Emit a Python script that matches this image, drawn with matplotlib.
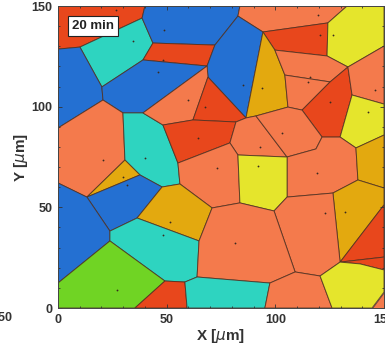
import matplotlib
matplotlib.use('Agg')
import matplotlib.pyplot as plt
from matplotlib.patches import Polygon
from matplotlib.ticker import MultipleLocator

plt.rcParams['font.family'] = ['Liberation Sans', 'DejaVu Sans']

# grain boundary junctions (um)
verts = {
    'A1': (0, 150), 'A2': (40.0, 150), 'A3': (83.7, 150), 'A4': (133.0, 150), 'A5': (150, 150),
    'A6': (0, 0), 'A7': (150, 0),
    'V1': (38.7, 144.0), 'V2': (10.1, 129.6), 'V3': (0, 128.6), 'V4': (43.7, 131.6),
    'V5': (39.1, 123.2), 'V6': (20.2, 109.8), 'V7': (72.2, 130.6), 'V8': (82.8, 145.0),
    'V9': (94.3, 137.1), 'V10': (124.2, 141.6), 'V11': (123.8, 125.2), 'V12': (99.8, 128.1),
    'V13': (133.4, 119.7), 'V14': (150, 130.1), 'V15': (68.6, 120.2), 'V16': (69.0, 114.7),
    'V17': (86.5, 94.4), 'V18': (62.1, 93.4), 'V19': (39.1, 96.9), 'V20': (20.7, 103.3),
    'V21': (0, 89.4), 'V22': (48.3, 90.9), 'V23': (105.8, 99.8), 'V24': (104.4, 115.7),
    'V25': (125.2, 112.3), 'V26': (112.3, 98.3), 'V27': (135.3, 105.8), 'V28': (129.8, 84.9),
    'V29': (121.5, 84.9), 'V30': (150, 101.3), 'V31': (150, 85.9), 'V32': (137.1, 79.5),
    'V33': (29.9, 96.9), 'V36': (81.9, 92.4), 'V37': (79.1, 82.0), 'V38': (55.2, 72.0),
    'V39': (118.7, 79.0), 'V40': (105.4, 75.0), 'V41': (82.8, 76.0), 'V42': (83.7, 52.2),
    'V43': (70.9, 49.7), 'V44': (56.1, 61.6), 'V45': (47.9, 60.1), 'V46': (37.7, 66.1),
    'V47': (30.8, 73.5), 'V48': (13.3, 55.1), 'V49': (0, 62.1), 'V50': (36.4, 44.7),
    'V51': (23.9, 38.2), 'V52': (23.9, 33.3), 'V53': (0, 12.4), 'V54': (64.9, 33.3),
    'V57': (64.0, 15.4), 'V58': (58.4, 12.9), 'V59': (49.2, 13.4), 'V61': (35.4, 0),
    'V62': (59.4, 0), 'V63': (97.5, 12.4), 'V64': (95.2, 0), 'V65': (99.4, 48.2),
    'V66': (109.1, 17.9), 'V67': (105.4, 55.1), 'V69': (126.5, 57.1), 'V70': (150, 59.6),
    'V71': (138.0, 63.6), 'V72': (129.8, 22.8), 'V73': (120.6, 15.9), 'V74': (150, 51.2),
    'V75': (150, 25.3), 'V76': (150, 18.9), 'V77': (139.0, 21.9), 'V78': (150, 7.9),
    'V83': (144.5, 0), 'V84': (126.1, 0), 'V85': (91.1, 95.4),
}

grains = [
    ['A1', 'A2', 'V1', 'V2', 'V3'],
    ['V1', 'V4', 'V5', 'V6', 'V2'],
    ['A2', 'A3', 'V8', 'V7', 'V4', 'V1'],
    ['A3', 'A4', 'V10', 'V9', 'V8'],
    ['V9', 'V10', 'V11', 'V12'],
    ['A4', 'A5', 'V14', 'V13', 'V11', 'V10'],
    ['V3', 'V2', 'V6', 'V20', 'V21'],
    ['V4', 'V7', 'V15', 'V5'],
    ['V6', 'V5', 'V15', 'V19', 'V33', 'V20'],
    ['V8', 'V9', 'V17', 'V16', 'V15', 'V7'],
    ['V9', 'V12', 'V24', 'V23', 'V85', 'V17'],
    ['V12', 'V11', 'V13', 'V25', 'V24'],
    ['V24', 'V25', 'V26', 'V23'],
    ['V25', 'V13', 'V27', 'V28', 'V29', 'V26'],
    ['V14', 'V13', 'V27', 'V30'],
    ['V27', 'V30', 'V31', 'V32', 'V28'],
    ['V21', 'V20', 'V33', 'V47', 'V48', 'V49'],
    ['V33', 'V19', 'V22', 'V38', 'V44', 'V45', 'V46', 'V47'],
    ['V15', 'V16', 'V18', 'V22', 'V19'],
    ['V16', 'V17', 'V36', 'V18'],
    ['V22', 'V18', 'V36', 'V37', 'V38'],
    ['V36', 'V17', 'V85', 'V40', 'V41', 'V37'],
    ['V85', 'V23', 'V26', 'V29', 'V39', 'V40'],
    ['V40', 'V39', 'V29', 'V28', 'V32', 'V71', 'V69', 'V67'],
    ['V32', 'V31', 'V70', 'V71'],
    ['V38', 'V37', 'V41', 'V42', 'V43', 'V44'],
    ['V41', 'V40', 'V67', 'V65', 'V42'],
    ['V47', 'V46', 'V48'],
    ['V48', 'V46', 'V45', 'V50', 'V51'],
    ['V45', 'V44', 'V43', 'V54', 'V50'],
    ['V49', 'V48', 'V51', 'V52', 'V53'],
    ['V51', 'V50', 'V54', 'V57', 'V58', 'V59', 'V52'],
    ['V69', 'V71', 'V70', 'V74', 'V72'],
    ['V65', 'V67', 'V69', 'V72', 'V73', 'V66'],
    ['V72', 'V74', 'V75'],
    ['V72', 'V75', 'V76', 'V77'],
    ['V54', 'V43', 'V42', 'V65', 'V66', 'V63', 'V57'],
    ['V53', 'V52', 'V59', 'V61', 'A6'],
    ['V61', 'V59', 'V58', 'V62'],
    ['V62', 'V58', 'V57', 'V63', 'V64'],
    ['V64', 'V63', 'V66', 'V73', 'V84'],
    ['V73', 'V72', 'V77', 'V76', 'V78', 'V83', 'V84'],
    ['V78', 'A7', 'V83'],
]

phase = ['red', 'cyan', 'blue', 'orange', 'red', 'yellow', 'blue', 'red', 'blue', 'blue',
         'gold', 'orange', 'orange', 'red', 'orange', 'yellow', 'orange', 'cyan', 'orange',
         'red', 'red', 'orange', 'orange', 'orange', 'gold', 'orange', 'yellow', 'gold',
         'blue', 'gold', 'blue', 'cyan', 'gold', 'orange', 'red', 'red', 'orange', 'green',
         'red', 'cyan', 'orange', 'yellow', 'orange']

palette = {'red': '#e8471c', 'orange': '#f47a4c', 'blue': '#2470d2', 'cyan': '#2ed4c0',
           'gold': '#e3a90f', 'yellow': '#e5e52c', 'green': '#70d424'}

# grain centres
seed_x = [26.7, 34.5, 48.8, 48.3, 46.0, 20.7, 40.0, 59.8, 67.6, 85.1, 93.9, 119.6, 120.6,
          126.5, 116.0, 115.0, 125.2, 145.9, 142.6, 103.1, 92.9, 64.4, 73.2, 92.0, 119.2,
          122.9, 132.1, 29.9, 31.7, 51.5, 48.3, 81.4, 27.1]
seed_y = [148.0, 132.6, 138.1, 123.2, 117.2, 73.5, 74.5, 103.3, 99.8, 110.8, 109.3, 145.5,
          135.6, 135.6, 114.7, 112.3, 102.3, 108.3, 97.4, 86.9, 80.0, 84.4, 69.5, 70.5, 67.1,
          47.2, 47.7, 65.1, 61.1, 42.7, 36.3, 32.3, 8.9]

fig = plt.figure(figsize=(3.85, 3.46), dpi=100)
ax = fig.add_axes([0.1506, 0.1098, 0.8468, 0.8728])

for names, ph in zip(grains, phase):
    pts = [verts[n] for n in names]
    ax.add_patch(Polygon(pts, closed=True, facecolor=palette[ph],
                         edgecolor=(0.3, 0.18, 0.12, 0.8), linewidth=0.7))

ax.plot(seed_x, seed_y, 'o', color='#3a2a20', markersize=1.3, markeredgewidth=0)

ax.set_xlim(0, 150)
ax.set_ylim(0, 150)
ax.xaxis.set_major_locator(MultipleLocator(50))
ax.yaxis.set_major_locator(MultipleLocator(50))
ax.xaxis.set_minor_locator(MultipleLocator(10))
ax.yaxis.set_minor_locator(MultipleLocator(10))
ax.tick_params(which='both', direction='in', top=True, right=True, colors='#333333',
               labelsize=9, width=0.6, pad=4)
ax.tick_params(which='major', length=3)
ax.tick_params(which='minor', length=1.5)
for lab in ax.get_xticklabels() + ax.get_yticklabels():
    lab.set_fontweight('bold')
for sp in ax.spines.values():
    sp.set_color('#444444')
    sp.set_linewidth(0.7)

ax.set_xlabel('X [$\\mu$m]', fontsize=11, fontweight='bold', color='#333333', labelpad=1)
ax.set_ylabel('Y [$\\mu$m]', fontsize=11, fontweight='bold', color='#333333', labelpad=1)

ax.text(6.5, 140, '20 min', fontsize=9.5, fontweight='bold', color='#222222',
        va='center', ha='left',
        bbox=dict(boxstyle='square,pad=0.3', facecolor='white', edgecolor='#222222', linewidth=0.8))

# neighbouring panel's tick label, cut by the figure edge
fig.text(12 / 385, 1 - 318 / 346, '150', fontsize=9, fontweight='bold', color='#333333',
         ha='right', va='center')

fig.savefig('out.png', dpi=100)
